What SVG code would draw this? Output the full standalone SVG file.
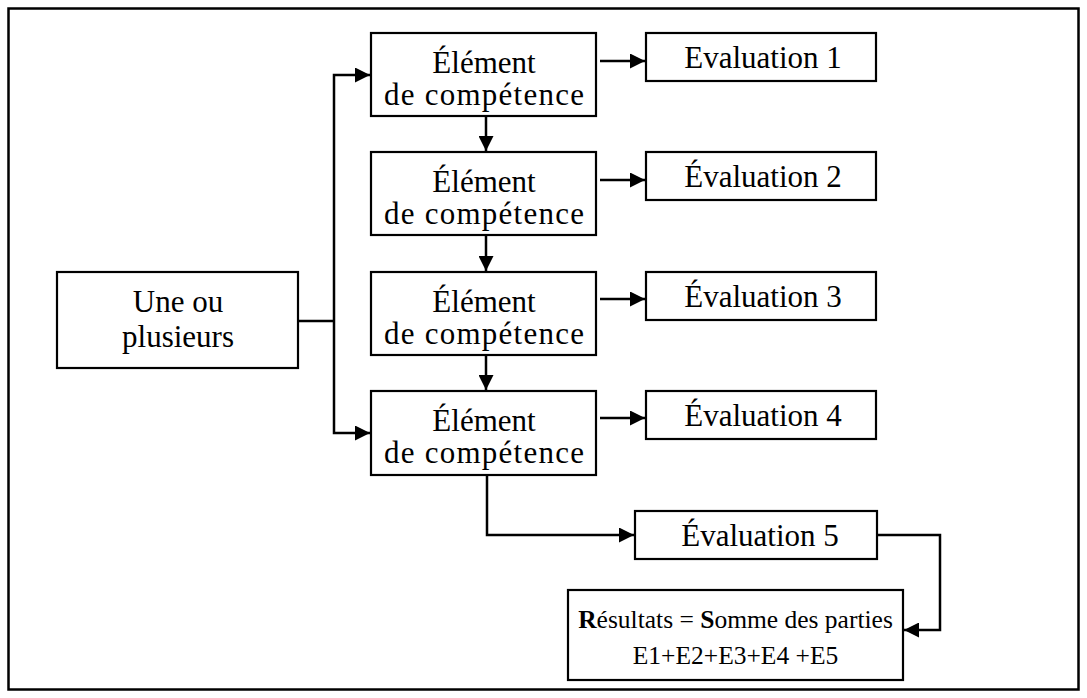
<svg xmlns="http://www.w3.org/2000/svg" width="1087" height="698" viewBox="0 0 1087 698">
<style>
.box{fill:#fff;stroke:#000;stroke-width:2.2}
.t{font-family:"Liberation Serif","Times New Roman",serif;font-size:31px;fill:#000;text-anchor:middle}
.r{font-size:25.5px}
.c{fill:none;stroke:#000;stroke-width:2.5}
</style>
<defs>
<marker id="ah" viewBox="0 0 15 15" refX="15" refY="7.5" markerWidth="15" markerHeight="15" markerUnits="userSpaceOnUse" orient="auto">
<path d="M0,0 L15,7.5 L0,15 Z" fill="#000"/>
</marker>
</defs>
<rect x="0" y="0" width="1087" height="698" fill="#fff"/>
<rect id="frame" x="8.5" y="8.5" width="1070" height="681" fill="none" stroke="#000" stroke-width="2.5"/>
<g id="connectors">
<polyline class="c" points="298,321 334,321"/>
<polyline class="c" points="334,321 334,75 370,75" marker-end="url(#ah)"/>
<polyline class="c" points="334,321 334,433 370,433" marker-end="url(#ah)"/>
<line class="c" x1="486" y1="116" x2="486" y2="151" marker-end="url(#ah)"/>
<line class="c" x1="486" y1="235" x2="486" y2="271" marker-end="url(#ah)"/>
<line class="c" x1="486" y1="355" x2="486" y2="390" marker-end="url(#ah)"/>
<line class="c" x1="600" y1="61" x2="645" y2="61" marker-end="url(#ah)"/>
<line class="c" x1="600" y1="180" x2="645" y2="180" marker-end="url(#ah)"/>
<line class="c" x1="600" y1="299" x2="645" y2="299" marker-end="url(#ah)"/>
<line class="c" x1="600" y1="418" x2="645" y2="418" marker-end="url(#ah)"/>
<polyline class="c" points="487,475 487,535 634,535" marker-end="url(#ah)"/>
<polyline class="c" points="877,535 940,535 940,630 904,630" marker-end="url(#ah)"/>
</g>
<g id="une">
<rect class="box" x="57" y="272" width="241" height="96"/>
<text class="t" x="178" y="312">Une ou</text>
<text class="t" x="178" y="347">plusieurs</text>
</g>
<g id="elem1">
<rect class="box" x="371" y="33" width="225" height="83"/>
<text class="t" x="484" y="73">Élément</text>
<text class="t" x="484" y="105" textLength="200" lengthAdjust="spacing">de compétence</text>
</g>
<g id="elem2">
<rect class="box" x="371" y="152" width="225" height="83"/>
<text class="t" x="484" y="192">Élément</text>
<text class="t" x="484" y="224" textLength="200" lengthAdjust="spacing">de compétence</text>
</g>
<g id="elem3">
<rect class="box" x="371" y="272" width="225" height="83"/>
<text class="t" x="484" y="312">Élément</text>
<text class="t" x="484" y="344" textLength="200" lengthAdjust="spacing">de compétence</text>
</g>
<g id="elem4">
<rect class="box" x="371" y="391" width="225" height="84"/>
<text class="t" x="484" y="431">Élément</text>
<text class="t" x="484" y="463" textLength="200" lengthAdjust="spacing">de compétence</text>
</g>
<g id="eval1">
<rect class="box" x="646" y="33" width="230" height="48"/>
<text class="t" x="763" y="68">Evaluation 1</text>
</g>
<g id="eval2">
<rect class="box" x="646" y="152" width="230" height="48"/>
<text class="t" x="763" y="187">Évaluation 2</text>
</g>
<g id="eval3">
<rect class="box" x="646" y="272" width="230" height="48"/>
<text class="t" x="763" y="307">Évaluation 3</text>
</g>
<g id="eval4">
<rect class="box" x="646" y="391" width="230" height="48"/>
<text class="t" x="763" y="426">Évaluation 4</text>
</g>
<g id="eval5">
<rect class="box" x="635" y="511" width="242" height="48"/>
<text class="t" x="760" y="546">Évaluation 5</text>
</g>
<g id="resultats">
<rect class="box" x="568" y="590" width="335" height="90"/>
<text class="t r" x="735.5" y="628"><tspan font-weight="bold">R</tspan>ésultats = <tspan font-weight="bold">S</tspan>omme des parties</text>
<text class="t r" x="735.5" y="664">E1+E2+E3+E4 +E5</text>
</g>
</svg>
